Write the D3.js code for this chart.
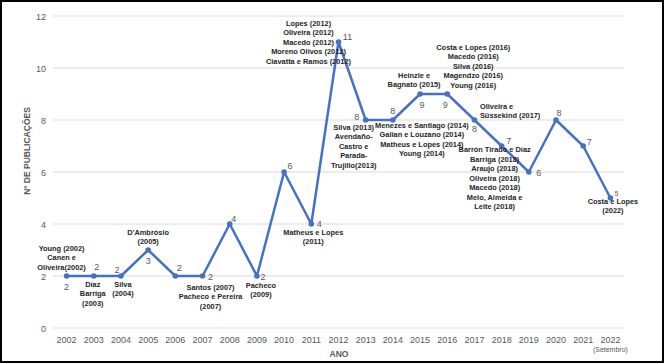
<!DOCTYPE html>
<html>
<head>
<meta charset="utf-8">
<script src="https://cdn.jsdelivr.net/npm/d3@7"></script>
<style>
  body { margin: 0; background: #fff; }
  text { font-family: "Liberation Sans", Arial, sans-serif; }
  .ann { font-weight: bold; font-size: 7.4px; fill: #262626; }
  .val { font-size: 9px; fill: #595959; }
  .tick text { font-size: 9px; fill: #595959; }
</style>
</head>
<body>
<div id="vis"></div>
<script>
// data
const years = ['2002','2003','2004','2005','2006','2007','2008','2009','2010','2011',
  '2012','2013','2014','2015','2016','2017','2018','2019','2020','2021','2022'];
const counts = [2,2,2,3,2,2,4,2,6,4,11,8,8,9,9,8,7,6,8,7,5];
const yTicks = [0,2,4,6,8,10,12];

const notes = [
  {year: '2002', lines: ['Young (2002)', 'Canen e', 'Oliveira(2002)']},
  {year: '2003', lines: ['Díaz', 'Barriga', '(2003)']},
  {year: '2004', lines: ['Silva', '(2004)']},
  {year: '2005', lines: ["D'Ambrósio", '(2005)']},
  {year: '2007', lines: ['Santos (2007)', 'Pacheco e Pereira', '(2007)']},
  {year: '2009', lines: ['Pacheco', '(2009)']},
  {year: '2011', lines: ['Matheus e Lopes', '(2011)']},
  {year: '2012', lines: ['Lopes (2012)', 'Oliveira (2012)', 'Macedo (2012)', 'Moreno Olivos (2012)', 'Ciavatta e Ramos (2012)']},
  {year: '2013', lines: ['Silva (2013)', 'Avendaño-', 'Castro e', 'Parada-', 'Trujillo(2013)']},
  {year: '2014', lines: ['Menezes e Santiago (2014)', 'Galian e Louzano (2014)', 'Matheus e Lopes (2014)', 'Young (2014)']},
  {year: '2015', lines: ['Heinzle e', 'Bagnato (2015)']},
  {year: '2016', lines: ['Costa e Lopes (2016)', 'Macedo (2016)', 'Silva (2016)', 'Magendzo (2016)', 'Young (2016)']},
  {year: '2017', lines: ['Oliveira e', 'Süssekind (2017)']},
  {year: '2018', lines: ['Barrón Tirado e Díaz', 'Barriga (2018)', 'Araujo (2018)', 'Oliveira (2018)', 'Macedo (2018)', 'Melo, Almeida e', 'Leite (2018)']},
  {year: '2022', lines: ['Costa e Lopes', '(2022)']}
];

// label placement (offsets from the point)
const valOffsets = [[0,11],[3,-9],[-4,-6],[0,11],[4,-8],[8,1],[4,-5],[6,1],[6,-6],[8,0],
  [9,-5],[-9,-3],[0,-9],[2,11],[-2,11],[0,9],[7,-5],[10,1],[3,-7],[6,-4],[6,-5]];
const noteOffsets = {
  '2002': [-5,-28,'middle'], '2003': [-1,8,'middle'], '2004': [2,8,'middle'],
  '2005': [0,-18,'middle'], '2007': [8,11,'middle'], '2009': [4,9,'middle'],
  '2011': [2,8,'middle'], '2012': [-30,-19,'middle'], '2013': [-12,7,'middle'],
  '2014': [29,5,'middle'], '2015': [-6,-19,'middle'], '2016': [26,-47,'middle'],
  '2017': [5.5,-14,'start'], '2018': [-7,3.5,'middle'], '2022': [2.5,3,'middle']
};
const lineGap = 9.5;

const W = 664, H = 364;
const plot = {left: 53, right: 624, top: 16, bottom: 328};

const svg = d3.select('#vis').append('svg')
  .attr('width', W).attr('height', H);

svg.append('rect')
  .attr('x', 1).attr('y', 1).attr('width', W - 2).attr('height', H - 3)
  .attr('fill', '#fff').attr('stroke', '#000').attr('stroke-width', 2);

const x = d3.scaleBand().domain(years).range([plot.left, plot.right]);
const y = d3.scaleLinear().domain([0, 12]).range([plot.bottom, plot.top]);
const cx = d => x(d) + x.bandwidth() / 2;

// gridlines
svg.append('g').selectAll('line').data(yTicks).join('line')
  .attr('x1', plot.left).attr('x2', plot.right)
  .attr('y1', d => y(d)).attr('y2', d => y(d))
  .attr('stroke', '#d9d9d9').attr('stroke-width', 1);

// y axis
const yAxis = svg.append('g')
  .attr('transform', `translate(${plot.left - 7},0)`)
  .call(d3.axisLeft(y).tickValues(yTicks).tickSize(0).tickPadding(0));
yAxis.select('.domain').remove();
yAxis.selectAll('text').attr('dy', '0.35em');

// x axis
const xAxis = svg.append('g')
  .attr('transform', `translate(0,${plot.bottom})`)
  .call(d3.axisBottom(x).tickSize(0).tickPadding(8));
xAxis.select('.domain').remove();
xAxis.selectAll('text').attr('dy', '0.35em').attr('y', 12);

svg.append('text')
  .attr('x', cx('2022')).attr('y', 349)
  .attr('text-anchor', 'middle').attr('dominant-baseline', 'central')
  .style('font-size', '7px').style('fill', '#595959')
  .text('(Setembro)');

// axis titles
svg.append('text')
  .attr('x', 339).attr('y', 354)
  .attr('text-anchor', 'middle').attr('dominant-baseline', 'central')
  .style('font-size', '8.5px').style('font-weight', 'bold').style('fill', '#595959')
  .text('ANO');

svg.append('text')
  .attr('transform', 'translate(27,151) rotate(-90)')
  .attr('text-anchor', 'middle').attr('dominant-baseline', 'central')
  .style('font-size', '8.5px').style('font-weight', 'bold').style('fill', '#595959')
  .text('Nº DE PUBLICAÇÕES');

// line + markers
const series = years.map((yr, i) => ({year: yr, value: counts[i], off: valOffsets[i]}));

svg.append('path')
  .datum(series)
  .attr('fill', 'none')
  .attr('stroke', '#4472c4')
  .attr('stroke-width', 2.5)
  .attr('stroke-linejoin', 'round')
  .attr('d', d3.line().x(d => cx(d.year)).y(d => y(d.value)));

svg.append('g').selectAll('circle').data(series).join('circle')
  .attr('cx', d => cx(d.year)).attr('cy', d => y(d.value))
  .attr('r', 2.8).attr('fill', '#4472c4');

// value labels
svg.append('g').selectAll('text').data(series).join('text')
  .attr('class', 'val')
  .attr('x', d => cx(d.year) + d.off[0])
  .attr('y', d => y(d.value) + d.off[1])
  .attr('text-anchor', 'middle').attr('dominant-baseline', 'central')
  .style('font-size', d => d.year === '2022' ? '7px' : null)
  .text(d => d.value);

// author annotations
svg.append('g').selectAll('text').data(notes).join('text')
  .attr('class', 'ann')
  .attr('text-anchor', d => noteOffsets[d.year][2])
  .each(function(d) {
    const i = years.indexOf(d.year);
    const o = noteOffsets[d.year];
    const px = cx(d.year) + o[0];
    const py = y(counts[i]) + o[1];
    d3.select(this).selectAll('tspan').data(d.lines).join('tspan')
      .attr('x', px)
      .attr('y', (l, k) => py + k * lineGap)
      .attr('dominant-baseline', 'central')
      .text(l => l);
  });
</script>
</body>
</html>
